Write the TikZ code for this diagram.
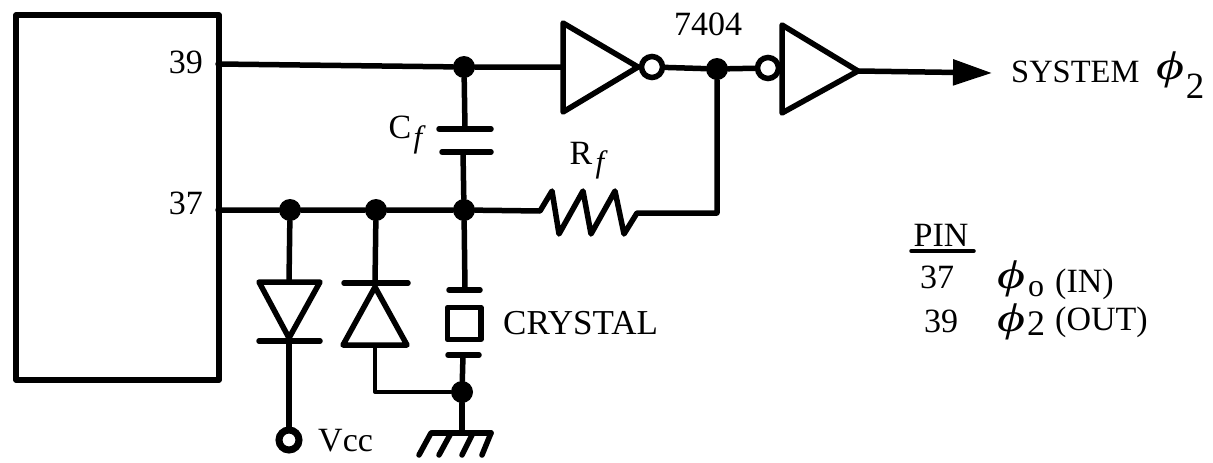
\documentclass[tikz,border=0pt]{standalone}
\usepackage{fontspec}
\usepackage{graphicx}
\setmainfont{Liberation Serif}
\usetikzlibrary{arrows.meta}
\tikzset{
  x=1pt,y=-1pt,
  wire/.style={line width=5.5pt,line cap=round,line join=round},
  thin wire/.style={line width=4pt,line cap=round,line join=round},
  dot/.style={circle,fill=black,inner sep=0pt,minimum size=22pt},
  bubble/.style={circle,draw,line width=5.5pt,fill=white,inner sep=0pt,minimum size=21pt},
  lbl/.style={font=\fontsize{34}{36}\selectfont,inner sep=0pt},
  subf/.style={font=\itshape\fontsize{31}{34}\selectfont,inner sep=0pt},
  phi/.style={font=\itshape\fontsize{40}{42}\selectfont,inner sep=0pt}
}
\newcommand{\widephi}{\scalebox{1.35}[1]{ϕ}}
\begin{document}
\begin{tikzpicture}
\useasboundingbox (0,0) rectangle (1213,463);
% chip
\node[draw,line width=5.5pt,line join=round,minimum width=203pt,minimum height=365pt,inner sep=0pt] (chip) at (117.5,197.5) {};
\node[lbl,anchor=base east] (p39) at (203,73) {39};
\node[lbl,anchor=base east] (p37) at (203,214) {37};
\coordinate (c39) at (218,64);
\coordinate (c37) at (218,210);
% junctions
\node[dot] (j1) at (464,67) {};
\node[dot] (j2) at (717,69) {};
\node[dot] (j3) at (290,210) {};
\node[dot] (j4) at (376,210) {};
\node[dot] (j5) at (464,210) {};
\node[dot] (j6) at (462,392) {};
% inverters
\draw[wire] (563,23) -- (563,112) -- (638,67) -- cycle;
\draw[wire] (782,25) -- (782,113) -- (858,71) -- cycle;
\node[bubble] (b1) at (652,67) {};
\node[bubble] (b2) at (768,68) {};
\coordinate (i1) at (563,67);
\coordinate (o2) at (858,71);
\draw[wire] (c39) -- (j1) -- (i1);
\draw[wire] (b1) -- (j2) -- (b2);
% output arrow
\coordinate (tip) at (992,73);
\draw[wire,-{Triangle[length=39pt,width=25pt]}] (o2) -- (tip);
\node[font=\fontsize{32.5}{36}\selectfont,inner sep=0pt,anchor=base west] (sys) at (1011,82) {SYSTEM};
\node[phi] (sphi) at (1170,70) {\widephi};
\node[font=\fontsize{37}{40}\selectfont,inner sep=0pt] (ssub) at (1195,86) {2};
\node[lbl,anchor=base] (ic) at (708,35) {7404};
% Cf
\draw[wire] (j1) -- (465,129);
\draw[wire] (439,129) -- (491,129);
\draw[wire] (442,152) -- (491,152);
\draw[wire] (463,152) -- (j5);
\node[lbl] (cflab) at (400,127) {C};
\node[subf] (cfsub) at (418,140) {f};
% Rf
\draw[wire] (c37) -- (j3) -- (j4) -- (j5) -- (540,211)
  -- (552,191) -- (559,234) -- (583,191) -- (591,234) -- (615,191) -- (624,234) -- (637,213) -- (717,213) -- (j2);
\node[lbl] (rlab) at (581,153) {R};
\node[subf] (rsub) at (600,165) {f};
% diode 1
\draw[wire] (j3) -- (289,282);
\draw[wire] (259,282) -- (320,282) -- (289,338) -- cycle;
\draw[wire] (259,341) -- (320,341);
\node[bubble,minimum size=20pt,line width=7pt] (vcc) at (289,440) {};
\draw[wire] (289,341) -- (vcc);
\node[lbl,anchor=base west] (vcclab) at (318,451) {Vcc};
% diode 2
\draw[wire] (j4) -- (375,283);
\draw[wire] (344,283) -- (408,283);
\draw[wire] (375,287) -- (343,345) -- (407,345) -- cycle;
\draw[thin wire] (375,345) -- (375,392) -- (j6);
% crystal
\draw[wire] (j5) -- (465,290);
\draw[wire] (449,290) -- (480,290);
\draw[wire] (447.5,307.5) rectangle (481,339.5);
\draw[wire] (448,355) -- (479,355);
\draw[wire] (463,355) -- (j6);
\node[font=\fontsize{35}{38}\selectfont,inner sep=0pt,anchor=base west] (xtal) at (503,334) {CRYSTAL};
% ground
\draw[wire] (j6) -- (462,433);
\draw[wire] (432,433) -- (491,433);
\draw[wire] (431,433) -- (419,455);
\draw[wire] (451,433) -- (439,455);
\draw[wire] (473,433) -- (462,455);
\draw[wire] (491,433) -- (482,455);
% legend
\node[lbl,anchor=base] (pin) at (941,246) {PIN};
\draw[line width=3.5pt,line cap=round] (911,251) -- (974,251);
\node[lbl,anchor=base] (l37) at (937,288) {37};
\node[lbl,anchor=base] (l39) at (941,332) {39};
\node[phi] (f0) at (1011,279) {\widephi};
\node[font=\fontsize{32}{34}\selectfont,inner sep=0pt] (f0s) at (1036,289) {o};
\node[lbl,anchor=base west] (lin) at (1055,292) {(IN)};
\node[phi] (f2) at (1011,322) {\widephi};
\node[font=\fontsize{36}{38}\selectfont,inner sep=0pt] (f2s) at (1036,324) {2};
\node[lbl,anchor=base west] (lout) at (1055,330) {(OUT)};
\end{tikzpicture}
\end{document}
